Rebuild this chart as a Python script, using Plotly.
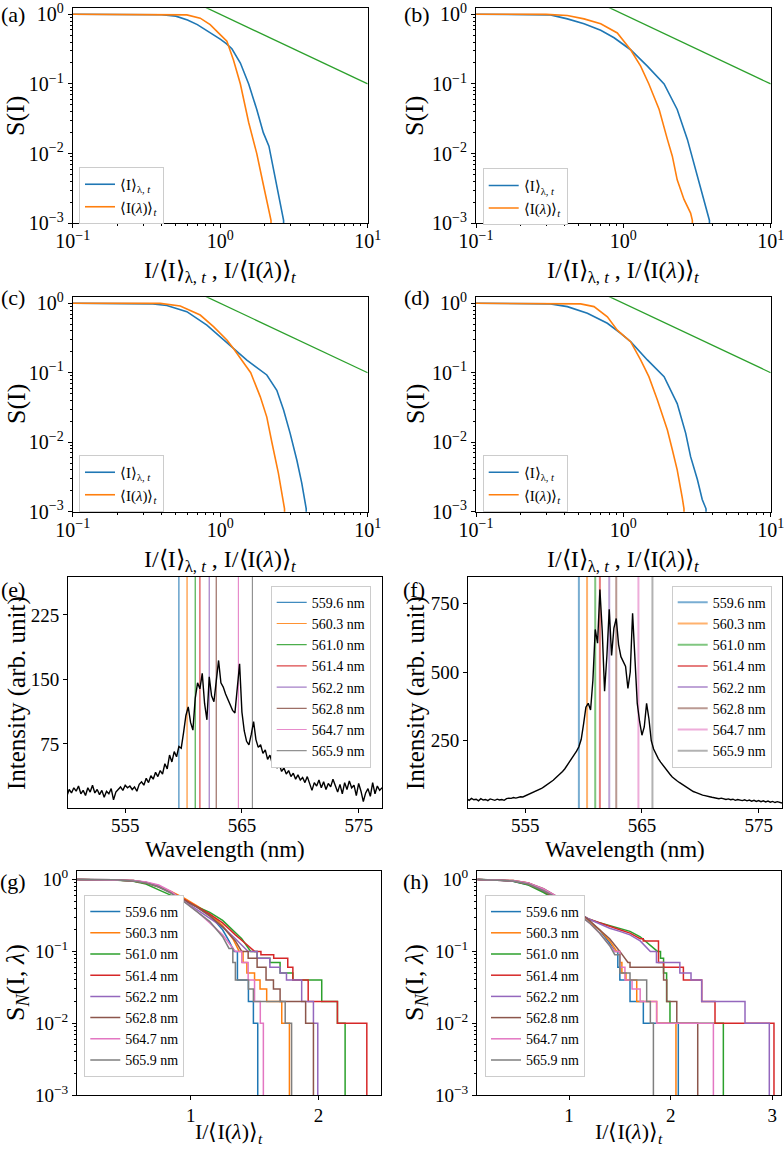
import plotly.graph_objects as go

W, H = 784, 1149
FONT = "Liberation Serif"
TAB = ['#1f77b4', '#ff7f0e', '#2ca02c', '#d62728', '#9467bd', '#8c564b', '#e377c2', '#7f7f7f']

# ---------------- (a)-(d): survival functions ----------------
A_BLUE_X = [0.1, 0.3, 0.4, 0.5, 0.6, 0.7, 0.8, 0.9, 1.0, 1.1, 1.2, 1.37, 1.56, 1.77, 1.96, 2.14, 2.3, 2.49, 2.69, 2.69]
A_BLUE_Y = [1.0, 0.998, 0.985, 0.94, 0.83, 0.71, 0.6, 0.51, 0.44, 0.38, 0.32, 0.2, 0.1, 0.043, 0.02, 0.0128, 0.0059, 0.0027, 0.0011, 0.0009]
A_ORANGE_X = [0.1, 0.5, 0.594, 0.732, 0.855, 1.0, 1.11, 1.23, 1.37, 1.56, 1.77, 1.96, 2.21, 2.21]
A_ORANGE_Y = [1.0, 0.995, 0.98, 0.88, 0.71, 0.51, 0.41, 0.22, 0.1, 0.028, 0.01, 0.0036, 0.0011, 0.0009]

B_BLUE_X = [0.1, 0.25, 0.32, 0.417, 0.541, 0.702, 0.865, 1.12, 1.455, 1.89, 2.32, 2.72, 3.18, 3.52, 3.84, 3.84]
B_BLUE_Y = [1.0, 0.997, 0.98, 0.86, 0.73, 0.59, 0.46, 0.31, 0.18, 0.1, 0.043, 0.016, 0.0047, 0.0022, 0.0011, 0.0009]
B_ORANGE_X = [0.1, 0.3, 0.417, 0.541, 0.702, 0.91, 1.12, 1.31, 1.49, 1.75, 1.99, 2.15, 2.32, 2.58, 2.86, 2.94, 2.94]
B_ORANGE_Y = [1.0, 0.998, 0.96, 0.86, 0.73, 0.54, 0.31, 0.18, 0.1, 0.043, 0.016, 0.0092, 0.0042, 0.0022, 0.0014, 0.0011, 0.0009]

C_BLUE_X = [0.1, 0.287, 0.35, 0.435, 0.594, 0.812, 1.0, 1.23, 1.516, 2.07, 2.42, 2.69, 2.98, 3.31, 3.57, 3.83, 3.83]
C_BLUE_Y = [1.0, 0.998, 0.98, 0.93, 0.757, 0.486, 0.33, 0.224, 0.152, 0.093, 0.056, 0.029, 0.0134, 0.0055, 0.0026, 0.0011, 0.0009]
C_ORANGE_X = [0.1, 0.392, 0.536, 0.732, 0.901, 1.11, 1.23, 1.40, 1.61, 1.87, 2.07, 2.24, 2.48, 2.73, 2.73]
C_ORANGE_Y = [1.0, 0.998, 0.914, 0.677, 0.46, 0.296, 0.224, 0.152, 0.1, 0.045, 0.023, 0.01, 0.0036, 0.0011, 0.0009]

D_BLUE_X = [0.1, 0.25, 0.32, 0.417, 0.57, 0.779, 0.959, 1.12, 1.455, 1.89, 2.32, 2.65, 2.86, 3.18, 3.43, 3.64, 3.64]
D_BLUE_Y = [1.0, 0.995, 0.98, 0.895, 0.72, 0.515, 0.37, 0.28, 0.153, 0.088, 0.036, 0.0134, 0.0062, 0.0029, 0.0015, 0.0011, 0.0009]
D_ORANGE_X = [0.1, 0.513, 0.632, 0.779, 0.91, 1.12, 1.31, 1.49, 1.70, 1.99, 2.15, 2.32, 2.51, 2.58, 2.58]
D_ORANGE_Y = [1.0, 0.98, 0.895, 0.64, 0.41, 0.28, 0.153, 0.088, 0.041, 0.015, 0.0078, 0.004, 0.0016, 0.0011, 0.0009]

POWER_X = [0.5, 10.0]   # reference power law S ~ I^-1
POWER_Y = [2.0, 0.1]

SURV_LABELS = ["⟨I⟩<sub>λ, <i>t</i></sub>", "⟨I(<i>λ</i>)⟩<sub><i>t</i></sub>"]

# ---------------- (e)-(f): spectra ----------------
WL_START, WL_STEP = 550.0, 0.2
E_INT = [14, 22, 18, 24, 20, 26, 17, 21, 15, 24, 19, 27, 18, 22, 16, 21, 13, 20, 17, 23,
         10, 19, 22, 25, 21, 27, 24, 26, 22, 25, 20, 28, 31, 27, 35, 30, 38, 34, 42, 37,
         44, 40, 52, 46, 62, 54, 66, 60, 72, 70, 88, 108, 118, 100, 91, 128, 146, 139, 157, 122,
         103, 153, 131, 124, 148, 172, 146, 141, 133, 127, 121, 114, 111, 140, 168, 112, 90, 78, 74, 86,
         101, 80, 71, 74, 64, 68, 57, 62, 52, 55, 47, 51, 43, 47, 40, 44, 37, 41, 34, 39,
         33, 36, 30, 37, 28, 21, 30, 26, 33, 24, 31, 22, 29, 25, 34, 27, 19, 28, 17, 30,
         22, 32, 24, 27, 15, 29, 20, 8, 18, 23, 14, 30, 17, 26, 21, 24]
F_INT = [38, 33, 40, 35, 37, 31, 39, 34, 36, 32, 38, 35, 33, 37, 34, 36, 33, 39, 41, 40,
         43, 41, 44, 46, 45, 49, 51, 55, 58, 62, 66, 72, 76, 82, 88, 92, 100, 106, 114, 122,
         128, 138, 148, 160, 175, 188, 200, 212, 228, 255, 310, 372, 386, 362, 470, 655, 605, 800, 650, 430,
         560, 728, 560, 660, 695, 600, 556, 540, 520, 440, 500, 714, 560, 386, 320, 270, 300, 386, 330, 250,
         220, 200, 185, 172, 160, 150, 138, 128, 118, 110, 104, 98, 92, 86, 80, 74, 70, 65, 62, 58,
         55, 52, 50, 47, 46, 44, 42, 40, 39, 41, 37, 36, 38, 35, 37, 33, 36, 34, 32, 35,
         31, 34, 30, 33, 29, 32, 28, 31, 27, 30, 26, 29, 25, 28, 24, 23]
WAVELENGTHS = [round(WL_START + WL_STEP * i, 1) for i in range(len(E_INT))]
LINE_WL = [559.6, 560.3, 561.0, 561.4, 562.2, 562.8, 564.7, 565.9]
LINE_LABELS = [f"{w:.1f} nm" for w in LINE_WL]

E_YRANGE = [0.5, 269.0]
F_YRANGE = [5.0, 846.0]

# ---------------- (g)-(h): normalized survival functions (step curves) ----------------
G_SX = [
    [0.11, 0.4, 0.55, 0.65, 0.75, 0.85, 0.95, 1.05, 1.15, 1.25, 1.3, 1.34],
    [0.11, 0.4, 0.55, 0.65, 0.75, 0.85, 0.95, 1.05, 1.15, 1.25, 1.33, 1.38],
    [0.11, 0.4, 0.55, 0.65, 0.75, 0.85, 0.95, 1.05, 1.15, 1.25, 1.33, 1.4, 1.47],
    [0.11, 0.4, 0.55, 0.65, 0.75, 0.85, 0.95, 1.05, 1.15, 1.25, 1.35, 1.45, 1.5],
    [0.11, 0.4, 0.55, 0.65, 0.75, 0.85, 0.95, 1.05, 1.15, 1.25, 1.35, 1.45],
    [0.11, 0.4, 0.55, 0.65, 0.75, 0.85, 0.95, 1.05, 1.15, 1.25, 1.35, 1.4],
    [0.11, 0.4, 0.55, 0.65, 0.75, 0.85, 0.95, 1.05, 1.15, 1.25, 1.3, 1.35],
    [0.11, 0.4, 0.55, 0.65, 0.75, 0.85, 0.95, 1.05, 1.15, 1.25, 1.3],
]
G_SY = [
    [1, 0.995, 0.96, 0.9, 0.8, 0.67, 0.54, 0.42, 0.32, 0.2, 0.14, 0.1],
    [1, 0.995, 0.97, 0.91, 0.81, 0.68, 0.55, 0.43, 0.33, 0.23, 0.15, 0.1],
    [1, 0.99, 0.95, 0.87, 0.72, 0.6, 0.5, 0.42, 0.35, 0.27, 0.2, 0.15, 0.1],
    [1, 0.995, 0.96, 0.9, 0.79, 0.66, 0.53, 0.42, 0.33, 0.25, 0.17, 0.12, 0.1],
    [1, 0.995, 0.97, 0.92, 0.82, 0.66, 0.5, 0.38, 0.29, 0.22, 0.15, 0.1],
    [1, 0.995, 0.97, 0.91, 0.8, 0.66, 0.52, 0.41, 0.31, 0.22, 0.14, 0.1],
    [1, 0.995, 0.97, 0.93, 0.84, 0.68, 0.5, 0.36, 0.25, 0.17, 0.13, 0.1],
    [1, 0.995, 0.96, 0.9, 0.79, 0.64, 0.49, 0.36, 0.26, 0.16, 0.11],
]
G_DX = [
    [1.366, 1.452, 1.491],
    [1.41, 1.44, 1.50, 1.543, 1.595, 1.713],
    [1.52, 1.62, 1.70, 1.80, 2.026, 2.149],
    [1.55, 1.65, 1.76, 1.80, 1.92, 2.149],
    [1.52, 1.62, 1.70, 1.75, 1.869, 1.961],
    [1.45, 1.52, 1.59, 1.648, 1.70, 1.90],
    [1.40, 1.45, 1.50, 1.545],
    [1.33, 1.35, 1.452, 1.491, 1.74],
]
G_DY = [
    [0.04, 0.02, 0.01],
    [0.07, 0.05, 0.04, 0.03, 0.02, 0.01],
    [0.08, 0.07, 0.05, 0.04, 0.02, 0.01],
    [0.09, 0.08, 0.06, 0.04, 0.02, 0.01],
    [0.08, 0.06, 0.05, 0.04, 0.02, 0.01],
    [0.08, 0.06, 0.04, 0.03, 0.02, 0.01],
    [0.07, 0.04, 0.02, 0.01],
    [0.07, 0.04, 0.03, 0.02, 0.01],
]
G_END = [1.525, 1.773, 2.209, 2.379, 1.995, 1.961, 1.569, 1.79]

H_SX = [
    [0.1, 0.3, 0.45, 0.6, 0.75, 0.9, 1.0, 1.1, 1.2, 1.3, 1.4, 1.45],
    [0.1, 0.3, 0.45, 0.6, 0.75, 0.9, 1.0, 1.1, 1.2, 1.3, 1.4, 1.47],
    [0.1, 0.3, 0.45, 0.6, 0.75, 0.9, 1.0, 1.1, 1.2, 1.3, 1.4, 1.5, 1.6, 1.7, 1.8, 1.87],
    [0.1, 0.3, 0.45, 0.6, 0.75, 0.9, 1.0, 1.1, 1.2, 1.3, 1.4, 1.5, 1.6, 1.7],
    [0.1, 0.3, 0.45, 0.6, 0.75, 0.9, 1.0, 1.1, 1.2, 1.3, 1.4, 1.5, 1.6, 1.7, 1.8],
    [0.1, 0.3, 0.45, 0.6, 0.75, 0.9, 1.0, 1.1, 1.2, 1.3, 1.4, 1.5, 1.58],
    [0.1, 0.3, 0.45, 0.6, 0.75, 0.9, 1.0, 1.1, 1.2, 1.3, 1.4, 1.45],
    [0.1, 0.3, 0.45, 0.6, 0.75, 0.9, 1.0, 1.1, 1.2, 1.3, 1.4, 1.45],
]
H_SY = [
    [1, 0.99, 0.95, 0.85, 0.68, 0.52, 0.4, 0.31, 0.26, 0.2, 0.13, 0.1],
    [1, 0.995, 0.97, 0.9, 0.72, 0.55, 0.42, 0.32, 0.26, 0.2, 0.14, 0.1],
    [1, 0.99, 0.95, 0.84, 0.66, 0.5, 0.4, 0.33, 0.28, 0.25, 0.23, 0.21, 0.19, 0.16, 0.12, 0.1],
    [1, 0.99, 0.96, 0.87, 0.7, 0.52, 0.41, 0.33, 0.28, 0.25, 0.22, 0.2, 0.18, 0.15],
    [1, 0.99, 0.96, 0.88, 0.72, 0.55, 0.43, 0.34, 0.28, 0.24, 0.21, 0.19, 0.17, 0.14, 0.1],
    [1, 0.99, 0.97, 0.9, 0.75, 0.56, 0.44, 0.34, 0.27, 0.2, 0.15, 0.1, 0.07],
    [1, 0.995, 0.97, 0.9, 0.74, 0.56, 0.43, 0.32, 0.25, 0.18, 0.12, 0.1],
    [1, 0.99, 0.96, 0.87, 0.7, 0.54, 0.42, 0.32, 0.25, 0.18, 0.12, 0.09],
]
H_DX = [
    [1.48, 1.5, 1.6, 1.731],
    [1.5, 1.52, 1.56, 1.666, 1.862],
    [1.9, 1.93, 1.96, 1.993],
    [1.73, 1.88, 1.93, 2.125, 2.305, 2.436],
    [1.86, 2.09, 2.2, 2.305, 2.731],
    [1.6, 1.93, 1.961, 2.06],
    [1.5, 1.55, 1.62, 1.7, 1.862],
    [1.5, 1.6, 1.764, 1.80],
]
H_DY = [
    [0.06, 0.04, 0.02, 0.01],
    [0.07, 0.05, 0.04, 0.02, 0.01],
    [0.08, 0.05, 0.02, 0.01],
    [0.14, 0.07, 0.06, 0.04, 0.02, 0.01],
    [0.07, 0.05, 0.04, 0.02, 0.01],
    [0.06, 0.04, 0.02, 0.01],
    [0.06, 0.04, 0.03, 0.02, 0.01],
    [0.05, 0.04, 0.02, 0.01],
]
H_END = [2.075, 2.052, 2.518, 3.016, 2.97, 2.266, 2.42, 1.83]

# ---------------- layout geometry (pixels) ----------------
PANELS = {  # idx: (left, right, top, bottom)
    1: (72.7, 367.7, 8.3, 223.3),
    2: (476.0, 770.7, 8.3, 223.3),
    3: (72.7, 367.7, 297.3, 511.7),
    4: (476.0, 770.7, 297.3, 511.7),
    5: (68.0, 382.0, 577.0, 808.0),
    6: (468.0, 782.0, 577.0, 808.0),
    7: (77.0, 381.0, 871.0, 1095.0),
    8: (477.0, 781.0, 871.0, 1095.0),
}


def px(x):
    return x / W


def py(y):
    return 1 - y / H


fig = go.Figure()


def axn(i):
    return ("x" if i == 1 else f"x{i}", "y" if i == 1 else f"y{i}")


def lg(i):
    return "legend" if i == 1 else f"legend{i}"


# (a)-(d)
surv = {1: (A_BLUE_X, A_BLUE_Y, A_ORANGE_X, A_ORANGE_Y),
        2: (B_BLUE_X, B_BLUE_Y, B_ORANGE_X, B_ORANGE_Y),
        3: (C_BLUE_X, C_BLUE_Y, C_ORANGE_X, C_ORANGE_Y),
        4: (D_BLUE_X, D_BLUE_Y, D_ORANGE_X, D_ORANGE_Y)}
for i, (bx, by, ox, oy) in surv.items():
    xa, ya = axn(i)
    fig.add_trace(go.Scatter(x=bx, y=by, mode="lines", line=dict(color=TAB[0], width=1.6),
                             name=SURV_LABELS[0], xaxis=xa, yaxis=ya, legend=lg(i)))
    fig.add_trace(go.Scatter(x=ox, y=oy, mode="lines", line=dict(color=TAB[1], width=1.6),
                             name=SURV_LABELS[1], xaxis=xa, yaxis=ya, legend=lg(i)))
    fig.add_trace(go.Scatter(x=POWER_X, y=POWER_Y, mode="lines", line=dict(color=TAB[2], width=1.3),
                             showlegend=False, xaxis=xa, yaxis=ya))

# (e)-(f)
for i, inten, yr, lw, op in ((5, E_INT, E_YRANGE, 1.2, 0.85), (6, F_INT, F_YRANGE, 2.0, 0.6)):
    xa, ya = axn(i)
    for k, w in enumerate(LINE_WL):
        fig.add_trace(go.Scatter(x=[w, w], y=yr, mode="lines", line=dict(color=TAB[k], width=lw),
                                 opacity=op, name=LINE_LABELS[k], xaxis=xa, yaxis=ya, legend=lg(i)))
    fig.add_trace(go.Scatter(x=WAVELENGTHS, y=inten, mode="lines", line=dict(color="black", width=1.4),
                             showlegend=False, xaxis=xa, yaxis=ya))

BOTTOM = 1e-5


def staircase(sx, sy, dx, dy, end):
    X, Y = list(sx), list(sy)
    cur = Y[-1]
    for xd, lv in zip(dx, dy):
        X += [xd, xd]
        Y += [cur, lv]
        cur = lv
    X += [end, end]
    Y += [cur, BOTTOM]
    return X, Y


for i, (SX, SY, DX, DY, END) in ((7, (G_SX, G_SY, G_DX, G_DY, G_END)), (8, (H_SX, H_SY, H_DX, H_DY, H_END))):
    xa, ya = axn(i)
    for k in range(8):
        X, Y = staircase(SX[k], SY[k], DX[k], DY[k], END[k])
        fig.add_trace(go.Scatter(x=X, y=Y, mode="lines", line=dict(color=TAB[k], width=1.5),
                                 name=LINE_LABELS[k], xaxis=xa, yaxis=ya, legend=lg(i)))

# ---------------- axes ----------------
base = dict(showline=True, mirror=True, linecolor="black", linewidth=1, ticks="outside", ticklen=4,
            tickwidth=1, tickcolor="black", showgrid=False, zeroline=False, automargin=False,
            ticklabeloverflow="allow")


def logminor(lo, hi):
    vals = []
    e = lo
    while e < hi:
        for m in range(2, 10):
            vals.append(m * 10 ** e)
        e += 1
    return dict(ticks="outside", ticklen=2, tickwidth=0.8, tickcolor="black", tickmode="array", tickvals=vals)


def pow_text(e):
    return "10<sup>" + (str(e) if e >= 0 else "−" + str(-e)) + "</sup>"


layout = {}
for i, (l, r, t, b) in PANELS.items():
    xk = "xaxis" if i == 1 else f"xaxis{i}"
    yk = "yaxis" if i == 1 else f"yaxis{i}"
    xa, ya = axn(i)
    fs = 20 if i <= 4 else 19
    tf = dict(family=FONT, size=fs, color="black")
    xd = dict(base, domain=[px(l), px(r)], anchor=ya, tickfont=tf, ticklabelstandoff=-4 if i <= 6 else -1)
    yd = dict(base, domain=[py(b), py(t)], anchor=xa, tickfont=tf)
    if i <= 4:
        xd.update(type="log", range=[-1, 1], tickmode="array", tickvals=[0.1, 1, 10],
                  ticktext=[pow_text(-1), pow_text(0), pow_text(1)], minor=logminor(-1, 1))
        yd.update(type="log", range=[-3, 0.086], tickmode="array", tickvals=[0.001, 0.01, 0.1, 1],
                  ticktext=[pow_text(-3), pow_text(-2), pow_text(-1), pow_text(0)], minor=logminor(-3, 0))
    elif i <= 6:
        xd.update(range=[550.1, 577.0], tickmode="array", tickvals=[555, 565, 575])
        if i == 5:
            yd.update(range=E_YRANGE, tickmode="array", tickvals=[75, 150, 225])
        else:
            yd.update(range=F_YRANGE, tickmode="array", tickvals=[250, 500, 750])
    else:
        xd.update(range=[0.11, 2.49] if i == 7 else [0.095, 3.085], tickmode="array",
                  tickvals=[1, 2] if i == 7 else [1, 2, 3])
        yd.update(type="log", range=[-3, 0.12], tickmode="array", tickvals=[0.001, 0.01, 0.1, 1],
                  ticktext=[pow_text(-3), pow_text(-2), pow_text(-1), pow_text(0)], minor=logminor(-3, 0))
    layout[xk] = xd
    layout[yk] = yd

# ---------------- legends ----------------
LEG_POS = {1: (79, 167), 2: (482.7, 168.3), 3: (79, 455), 4: (482.7, 455),
           5: (270.7, 585.7), 6: (671.7, 585.7), 7: (84.3, 895), 8: (485, 895)}
for i, (lx, ly) in LEG_POS.items():
    layout[lg(i)] = dict(x=px(lx), y=py(ly), xanchor="left", yanchor="top", bgcolor="white",
                         bordercolor="#cccccc", borderwidth=1, tracegroupgap=0,
                         font=dict(family=FONT, size=15 if i <= 4 else 14, color="black"))

# ---------------- annotations (titles, panel labels) ----------------
XT_SURV = "I/⟨I⟩<sub>λ, <i>t</i></sub> , I/⟨I(<i>λ</i>)⟩<sub><i>t</i></sub>"
XT_WL = "Wavelength (nm)"
XT_NORM = "I/⟨I(<i>λ</i>)⟩<sub><i>t</i></sub>"
YT_SURV = "S(I)"
YT_INT = "Intensity (arb. unit)"
YT_NORM = "S<sub><i>N</i></sub>(I, <i>λ</i>)"

anns = []


def ann(text, x, y, size, angle=0):
    anns.append(dict(text=text, x=px(x), y=py(y), xref="paper", yref="paper", showarrow=False,
                     xanchor="center", yanchor="middle", textangle=angle,
                     font=dict(family=FONT, size=size, color="black")))


for cx, cy in ((220, 272), (623, 272), (220, 561), (623, 561)):
    ann(XT_SURV, cx, cy, 24)
for cx in (225, 625):
    ann(XT_WL, cx, 849, 23)
for cx in (229, 629):
    ann(XT_NORM, cx, 1133, 22)
for cx, cy in ((16, 116), (415, 116), (16, 404), (415, 404)):
    ann(YT_SURV, cx, cy, 26, -90)
for cx in (17, 416):
    ann(YT_INT, cx, 693, 25, -90)
for cx in (17, 416):
    ann(YT_NORM, cx, 983, 26, -90)
for lab, cx, cy in (("(a)", 13, 15), ("(b)", 417, 15), ("(c)", 13, 297), ("(d)", 417, 297),
                    ("(e)", 13, 589), ("(f)", 414, 589), ("(g)", 13, 882), ("(h)", 416, 882)):
    ann(lab, cx, cy, 22)

fig.update_layout(width=W, height=H, margin=dict(l=0, r=0, t=0, b=0, autoexpand=False),
                  paper_bgcolor="white", plot_bgcolor="white", font=dict(family=FONT, color="black"),
                  annotations=anns, **layout)
fig.write_html("out.html", config={"displayModeBar": False},
               post_script="document.body.style.margin='0px';")
